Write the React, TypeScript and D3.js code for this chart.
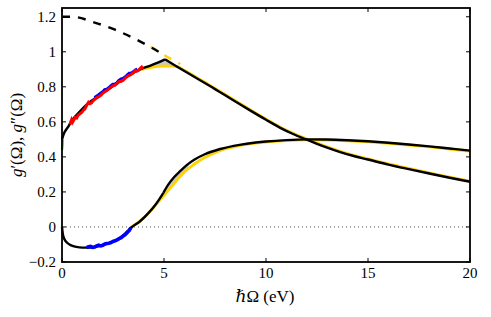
import React from "react";
import * as d3 from "d3";

type P = [number, number];

// g' (black), before and after the kink at 5 eV
const gpLeft: P[] = [[0,0.5],[0.1,0.535],[0.2,0.555],[0.31,0.573],[0.5,0.61],[0.8,0.65],[1.29,0.707],[1.7,0.74],[2.1,0.773],[2.5,0.805],[2.93,0.84],[3.3,0.868],[3.58,0.886],[3.9,0.903],[4.3,0.92],[4.7,0.938],[5.05,0.957]];
const gpRight: P[] = [[5.05,0.957],[5.5,0.925],[6,0.89],[6.5,0.856],[7,0.822],[7.5,0.787],[8,0.752],[8.7,0.702],[9.3,0.66],[10,0.612],[10.7,0.566],[11.3,0.532],[12,0.498],[12.5,0.475],[13,0.453],[13.6,0.429],[14.3,0.405],[15,0.385],[16,0.356],[17,0.33],[18,0.305],[19,0.281],[20,0.258]];
// g'' (black)
const gppLeft: P[] = [[0,0],[0.04,-0.04],[0.12,-0.07],[0.25,-0.09],[0.45,-0.105],[0.7,-0.114],[1,-0.118],[1.4,-0.117],[2,-0.103],[2.5,-0.083],[3,-0.048],[3.4,-0.003],[3.8,0.03],[4.2,0.075],[4.6,0.13],[4.97,0.195]];
const gppRight: P[] = [[4.97,0.195],[5.2,0.24],[5.5,0.285],[5.8,0.32],[6.1,0.352],[6.5,0.385],[7,0.415],[7.75,0.445],[8.7,0.469],[9.5,0.482],[10,0.488],[11,0.496],[12,0.5],[13,0.499],[14,0.495],[15,0.489],[16,0.481],[17,0.471],[18,0.46],[19,0.448],[20,0.436]];
// smooth model (yellow)
const gpYellow: P[] = [[3.9,0.9],[4.3,0.91],[4.7,0.917],[5,0.919],[5.3,0.918],[5.6,0.917],[6,0.894],[6.5,0.86],[7,0.826],[7.5,0.791],[8,0.756],[8.7,0.706],[9.3,0.664],[10,0.616],[10.7,0.57],[11.3,0.536],[12,0.502],[12.5,0.479],[13,0.457],[13.6,0.433],[14.3,0.409],[15,0.389],[16,0.36],[17,0.334],[18,0.309],[19,0.285],[20,0.262]];
const gppYellow: P[] = [[3.4,0],[3.8,0.032],[4.2,0.074],[4.6,0.126],[5,0.18],[5.4,0.235],[5.8,0.29],[6.2,0.334],[6.6,0.368],[7,0.396],[7.5,0.424],[8,0.445],[8.7,0.465],[9.5,0.479],[10,0.485],[11,0.493],[12,0.497],[13,0.496],[14,0.492],[15,0.486],[16,0.478],[17,0.468],[18,0.457],[19,0.445],[20,0.433]];
// extrapolation (dashed)
const dashedBlack: P[] = [[0,1.2],[0.5,1.2],[1.6,1.167],[2.6,1.126],[3.5,1.078],[4.3,1.03],[4.95,0.985]];
const dashedYellow: P[] = [[4.0,1.05],[4.5,1.018],[4.95,0.985],[5.4,0.955],[5.8,0.93]];
// noisy data
const redData: P[] = [[0.39,0.585],[0.43,0.6],[0.47,0.612],[0.52,0.598],[0.58,0.61],[0.65,0.626],[0.72,0.622],[0.78,0.636],[0.9,0.648],[0.98,0.655],[1.05,0.668],[1.12,0.674],[1.2,0.692],[1.3,0.712],[1.38,0.704],[1.45,0.708],[1.52,0.72],[1.6,0.728],[1.7,0.737],[1.8,0.744],[1.9,0.752],[2,0.764],[2.1,0.772],[2.2,0.779],[2.3,0.788],[2.4,0.797],[2.5,0.806],[2.6,0.81],[2.7,0.82],[2.8,0.829],[2.9,0.832],[3,0.838],[3.1,0.85],[3.2,0.86],[3.3,0.865],[3.4,0.872],[3.5,0.88],[3.6,0.893],[3.68,0.89],[3.75,0.894],[3.85,0.907],[3.9,0.912],[3.95,0.9]];
const blueUpper: P[] = [[1.6,0.738],[1.75,0.748],[1.9,0.762],[2,0.77],[2.1,0.783],[2.2,0.785],[2.3,0.793],[2.4,0.804],[2.5,0.814],[2.6,0.815],[2.7,0.822],[2.8,0.836],[2.9,0.843],[3,0.846],[3.1,0.855],[3.2,0.866],[3.3,0.876],[3.4,0.877],[3.5,0.884],[3.6,0.894],[3.7,0.9]];
const blueLower: P[] = [[1.2,-0.118],[1.3,-0.113],[1.4,-0.111],[1.5,-0.117],[1.6,-0.115],[1.7,-0.108],[1.8,-0.104],[1.9,-0.108],[2,-0.105],[2.1,-0.097],[2.2,-0.094],[2.3,-0.093],[2.4,-0.089],[2.5,-0.083],[2.6,-0.079],[2.7,-0.074],[2.8,-0.067],[2.9,-0.062],[3,-0.051],[3.1,-0.043],[3.2,-0.031],[3.3,-0.02],[3.38,-0.004]];
const greenData: P[] = [[0,0.44],[0.02,0.47],[0.03,0.5]];

const xTicks = [0, 5, 10, 15, 20];
const yTicks = [-0.2, 0, 0.2, 0.4, 0.6, 0.8, 1, 1.2];

const W = 491, H = 317;
const M = { l: 62, r: 470, t: 8, b: 262 };

export default function App() {
  const x = d3.scaleLinear().domain([0, 20]).range([M.l, M.r]);
  const y = d3.scaleLinear().domain([-0.2, 1.25]).range([M.b, M.t]);
  const line = d3.line<P>().x(d => x(d[0])).y(d => y(d[1])).curve(d3.curveMonotoneX);
  const raw = d3.line<P>().x(d => x(d[0])).y(d => y(d[1]));

  const interp = (pts: P[], xv: number) => {
    for (let i = 0; i < pts.length - 1; i++) {
      if (xv >= pts[i][0] && xv <= pts[i + 1][0]) {
        const t = (xv - pts[i][0]) / (pts[i + 1][0] - pts[i][0]);
        return pts[i][1] + t * (pts[i + 1][1] - pts[i][1]);
      }
    }
    return pts[pts.length - 1][1];
  };
  const gapPoly = (a: P[], b: P[], x0: number, x1: number) => {
    const xs = d3.range(x0, x1 + 1e-9, 0.05);
    const top: P[] = xs.map(v => [v, interp(a, v)]);
    const bot: P[] = xs.slice().reverse().map(v => [v, interp(b, v)]);
    return raw([...top, ...bot]) + "Z";
  };
  const gpAll = [...gpLeft, ...gpRight.slice(1)];
  const gppAll = [...gppLeft, ...gppRight.slice(1)];

  const ts = { fontFamily: "'Liberation Serif', 'DejaVu Serif', serif" };
  const yellow = "#FFD200";
  const lw = 2.4;

  return (
    <svg width={W} height={H} style={{ position: "absolute", left: 0, top: 0, background: "#fff" }}>
      <rect x={0} y={0} width={W} height={H} fill="#fff" />
      <line x1={x(0)} x2={x(20)} y1={y(0)} y2={y(0)} stroke="#555" strokeWidth={1} strokeDasharray="1,3" />
      <path d={gapPoly(gpAll, gpYellow, 4.0, 5.6)} fill="#c8c8c8" />
      <path d={gapPoly(gppAll, gppYellow, 4.7, 6.2)} fill="#c8c8c8" />
      <path d={line(gpYellow)!} fill="none" stroke={yellow} strokeWidth={2.8} />
      <path d={line(gppYellow)!} fill="none" stroke={yellow} strokeWidth={2.8} />
      <path d={line(dashedYellow)!} fill="none" stroke={yellow} strokeWidth={2.4} strokeDasharray="8,8" strokeDashoffset={8} />
      <path d={line(gpLeft)!} fill="none" stroke="#000" strokeWidth={lw} />
      <path d={line(gpRight)!} fill="none" stroke="#000" strokeWidth={lw} />
      <path d={line(gppLeft)!} fill="none" stroke="#000" strokeWidth={lw} />
      <path d={line(gppRight)!} fill="none" stroke="#000" strokeWidth={lw} />
      <path d={line(dashedBlack)!} fill="none" stroke="#000" strokeWidth={lw} strokeDasharray="8,8" />
      <path d={raw(blueUpper)!} fill="none" stroke="#0000ff" strokeWidth={3.6} />
      <path d={raw(redData)!} fill="none" stroke="#ff0000" strokeWidth={3} />
      <path d={raw(blueLower)!} fill="none" stroke="#0000ff" strokeWidth={3.6} />
      <path d={raw(greenData)!} fill="none" stroke="#00cc00" strokeWidth={2.4} />
      <rect x={M.l} y={M.t} width={M.r - M.l} height={M.b - M.t} fill="none" stroke="#000" strokeWidth={1.8} />
      {xTicks.map(t => (
        <g key={"x" + t}>
          <line x1={x(t)} x2={x(t)} y1={M.b} y2={M.b - 4} stroke="#000" strokeWidth={1} />
          <line x1={x(t)} x2={x(t)} y1={M.t} y2={M.t + 4} stroke="#000" strokeWidth={1} />
          <text x={x(t)} y={278} fontSize={15} textAnchor="middle" style={ts}>{t}</text>
        </g>
      ))}
      {yTicks.map(t => (
        <g key={"y" + t}>
          <line x1={M.l} x2={M.l + 4} y1={y(t)} y2={y(t)} stroke="#000" strokeWidth={1} />
          <line x1={M.r} x2={M.r - 4} y1={y(t)} y2={y(t)} stroke="#000" strokeWidth={1} />
          <text x={56} y={y(t) + 5} fontSize={15} textAnchor="end" style={ts}>{t < 0 ? "\u2212" + Math.abs(t) : String(t)}</text>
        </g>
      ))}
      <text x={265} y={302} fontSize={17} textAnchor="middle" style={ts}>
        ℏΩ (eV)
      </text>
      <text transform="translate(22,135) rotate(-90)" fontSize={17} textAnchor="middle" style={ts}>
        <tspan fontStyle="italic">g</tspan>′(Ω), <tspan fontStyle="italic">g</tspan>″(Ω)
      </text>
    </svg>
  );
}
